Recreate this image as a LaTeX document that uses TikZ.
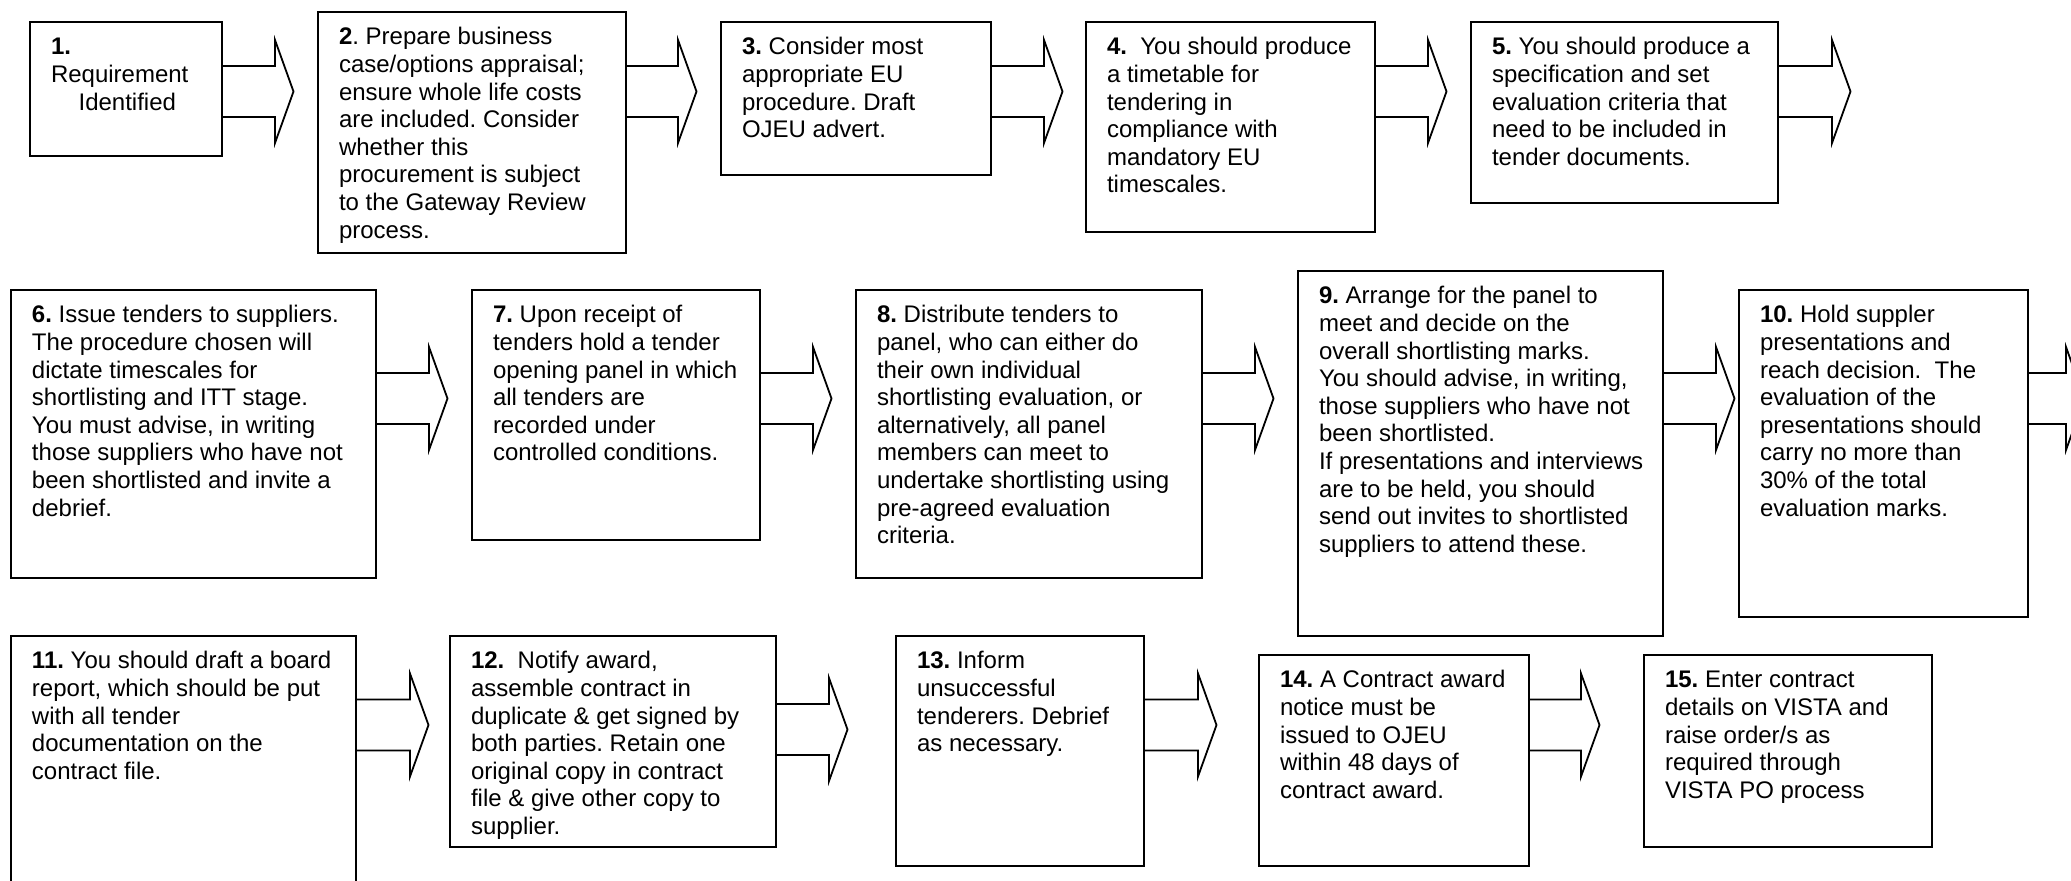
\documentclass[tikz,border=0pt]{standalone}
\usepackage{fontspec}
\setmainfont{Liberation Sans}
\usetikzlibrary{calc}
\frenchspacing
\tikzset{
  box/.style={draw, line width=1pt, rectangle, inner sep=0pt, outer sep=0pt, anchor=north west},
  txt/.style={anchor=north west, inner sep=0pt, outer sep=0pt, align=left, font=\fontsize{12}{13.8}\selectfont\frenchspacing},
  arr/.style={draw, line width=0.9pt, line join=miter},
}
\newcommand{\mkbox}[5]{\node[box, minimum width={(#4-#2)*0.5pt}, minimum height={(#5-#3)*0.5pt}] (#1) at (#2,#3) {};}
\newcommand{\mktxt}[3]{\node[txt] (#2) at ($(#1.north west)+(21,13.5)$) {\strut #3};}
\newcommand{\mkarrow}[3]{\draw[arr] (#1.east |- #2) ++(0,-25.5) -- ++(#3,0) -- ++(0,-26) -- ++(18.5,51.5) -- ++(-18.5,51.5) -- ++(0,-26) -- ++(-#3,0);}
\begin{document}
\begin{tikzpicture}[x=0.5pt, y=-0.5pt]
\useasboundingbox (0,0) rectangle (2071,880);
\clip (0,0) rectangle (2071,880);
\coordinate (r1) at (0,91.5);
\coordinate (r2) at (0,398.5);
\coordinate (r3) at (0,725);
\coordinate (r3b) at (0,729.5);
% boxes
\mkbox{b1}{30}{22}{222}{156}
\mkbox{b2}{318}{12}{626}{253}
\mkbox{b3}{721}{22}{991}{175}
\mkbox{b4}{1086}{22}{1375}{232}
\mkbox{b5}{1471}{22}{1778}{203}
\mkbox{b6}{11}{290}{376}{578}
\mkbox{b7}{472}{290}{760}{540}
\mkbox{b8}{856}{290}{1202}{578}
\mkbox{b9}{1298}{271}{1663}{636}
\mkbox{b10}{1739}{290}{2028}{617}
\mkbox{b11}{11}{636}{356}{900}
\mkbox{b12}{450}{636}{776}{847}
\mkbox{b13}{896}{636}{1144}{866}
\mkbox{b14}{1259}{655}{1529}{866}
\mkbox{b15}{1644}{655}{1932}{847}
% texts
\mktxt{b1}{t1}{\textbf{1.}\\Requirement\\\hspace*{13.8pt}Identified}
\mktxt{b2}{t2}{\textbf{2}. Prepare business\\case/options appraisal;\\ensure whole life costs\\are included. Consider\\whether this\\procurement is subject\\to the Gateway Review\\process.}
\mktxt{b3}{t3}{\textbf{3.} Consider most\\appropriate EU\\procedure. Draft\\OJEU advert.}
\mktxt{b4}{t4}{\textbf{4.}~ You should produce\\a timetable for\\tendering in\\compliance with\\mandatory EU\\timescales.}
\mktxt{b5}{t5}{\textbf{5.} You should produce a\\specification and set\\evaluation criteria that\\need to be included in\\tender documents.}
\mktxt{b6}{t6}{\textbf{6.} Issue tenders to suppliers.\\The procedure chosen will\\dictate timescales for\\shortlisting and ITT stage.\\You must advise, in writing\\those suppliers who have not\\been shortlisted and invite a\\debrief.}
\mktxt{b7}{t7}{\textbf{7.} Upon receipt of\\tenders hold a tender\\opening panel in which\\all tenders are\\recorded under\\controlled conditions.}
\mktxt{b8}{t8}{\textbf{8.} Distribute tenders to\\panel, who can either do\\their own individual\\shortlisting evaluation, or\\alternatively, all panel\\members can meet to\\undertake shortlisting using\\pre-agreed evaluation\\criteria.}
\mktxt{b9}{t9}{\textbf{9.} Arrange for the panel to\\meet and decide on the\\overall shortlisting marks.\\You should advise, in writing,\\those suppliers who have not\\been shortlisted.\\If presentations and interviews\\are to be held, you should\\send out invites to shortlisted\\suppliers to attend these.}
\mktxt{b10}{t10}{\textbf{10.} Hold suppler\\presentations and\\reach decision.~ The\\evaluation of the\\presentations should\\carry no more than\\30\% of the total\\evaluation marks.}
\mktxt{b11}{t11}{\textbf{11.} You should draft a board\\report, which should be put\\with all tender\\documentation on the\\contract file.}
\mktxt{b12}{t12}{\textbf{12.}~ Notify award,\\assemble contract in\\duplicate \& get signed by\\both parties. Retain one\\original copy in contract\\file \& give other copy to\\supplier.}
\mktxt{b13}{t13}{\textbf{13.} Inform\\unsuccessful\\tenderers. Debrief\\as necessary.}
\mktxt{b14}{t14}{\textbf{14.} A Contract award\\notice must be\\issued to OJEU\\within 48 days of\\contract award.}
\mktxt{b15}{t15}{\textbf{15.} Enter contract\\details on VISTA and\\raise order/s as\\required through\\VISTA PO process}
% block arrows
\mkarrow{b1}{r1}{53}
\mkarrow{b2}{r1}{52}
\mkarrow{b3}{r1}{53}
\mkarrow{b4}{r1}{53}
\mkarrow{b5}{r1}{54}
\mkarrow{b6}{r2}{53}
\mkarrow{b7}{r2}{53}
\mkarrow{b8}{r2}{53}
\mkarrow{b9}{r2}{53}
\mkarrow{b10}{r2}{38}
\mkarrow{b11}{r3}{54}
\mkarrow{b12}{r3b}{53}
\mkarrow{b13}{r3}{54}
\mkarrow{b14}{r3}{52}
\end{tikzpicture}
\end{document}
